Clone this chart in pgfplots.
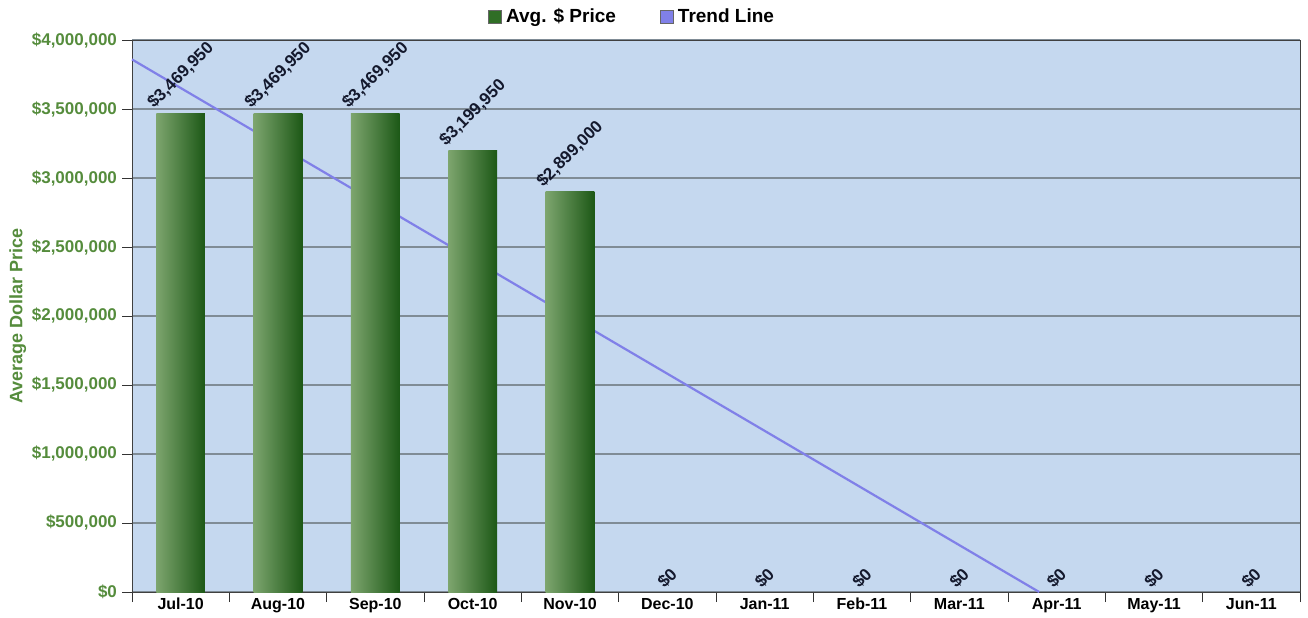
\documentclass[border=0pt]{standalone}
\usepackage{pgfplots}
\pgfplotsset{compat=1.18}
\usepackage{fontspec}
\setmainfont{Liberation Sans}
\definecolor{plotbg}{RGB}{197,216,239}
\definecolor{gridc}{RGB}{128,140,150}
\definecolor{barlight}{RGB}{125,165,110}
\definecolor{barmid}{RGB}{58,132,46}
\definecolor{bardark}{RGB}{28,88,22}
\definecolor{trendc}{RGB}{128,128,232}
\definecolor{tickgreen}{RGB}{85,140,60}
\definecolor{lblnavy}{RGB}{20,25,45}
\definecolor{legendgreen}{RGB}{48,110,38}
\begin{document}
\begin{tikzpicture}
\useasboundingbox (-66pt,-12.5pt) rectangle (588pt,296pt);
\begin{axis}[
    scale only axis,
    width=584pt, height=276pt,
    xmin=-0.5, xmax=11.5,
    ymin=0, ymax=4000000,
    scaled y ticks=false,
    axis background/.style={fill=plotbg},
    axis line style={draw=black!75},
    xtick pos=bottom, ytick pos=left,
    xtick={0,...,11},
    xticklabels={Jul-10,Aug-10,Sep-10,Oct-10,Nov-10,Dec-10,Jan-11,Feb-11,Mar-11,Apr-11,May-11,Jun-11},
    minor xtick={-0.5,0.5,...,11.5},
    major x tick style={draw=none},
    minor x tick style={draw=black!80},
    tick align=outside,
    minor tick length=5pt,
    major tick length=5pt,
    ytick={0,500000,...,4000000},
    yticklabels={\$0,\$500{,}000,\$1{,}000{,}000,\$1{,}500{,}000,\$2{,}000{,}000,\$2{,}500{,}000,\$3{,}000{,}000,\$3{,}500{,}000,\$4{,}000{,}000},
    ytick style={draw=black!80},
    ymajorgrids,
    grid style={draw=gridc, line width=0.6pt},
    xticklabel style={font=\fontsize{8}{9}\selectfont\bfseries, text=black, yshift=5.5pt},
    yticklabel style={font=\fontsize{8.5}{10}\selectfont\bfseries, text=tickgreen, xshift=1pt},
    ylabel={Average Dollar Price},
    ylabel style={font=\fontsize{9}{10}\selectfont\bfseries, text=tickgreen, yshift=-4pt},
    clip=false,
    legend style={at={(0.429,1.011)}, anchor=south, draw=none, fill=none,
        legend columns=2, font=\fontsize{9.5}{11}\selectfont\bfseries,
        /tikz/every even column/.append style={column sep=20pt}},
    nodes near coords={\rotatebox{45}{\pgfplotspointmeta}},
    every node near coord/.append style={font=\fontsize{8.5}{9}\selectfont\bfseries, text=lblnavy, anchor=south, inner sep=1pt},
    pricebar/.style={ybar, bar width=0.5, draw=none,
        left color=barlight, middle color=barmid, right color=bardark,
        point meta=explicit symbolic},
]
% trend line first, so that the bars cover it
\addplot[trendc, line width=1.1pt, nodes near coords=, no markers, forget plot]
coordinates {(-0.5,3859337) (8.82,0)};
\addplot[pricebar,
    legend image code/.code={\node[draw=black!60, fill=legendgreen, minimum size=6.6pt, inner sep=0pt, anchor=west] at (0pt,0pt) {};}]
coordinates {(0,3469950) [\$3,469,950]};
\addlegendentry{Avg. \$ Price}
\addlegendimage{legend image code/.code={\node[draw=black!60, fill=trendc, minimum size=6.6pt, inner sep=0pt, anchor=west] at (0pt,0pt) {};}}
\addlegendentry{Trend Line}
\addplot[pricebar, forget plot] coordinates {(1,3469950) [\$3,469,950]};
\addplot[pricebar, forget plot] coordinates {(2,3469950) [\$3,469,950]};
\addplot[pricebar, forget plot] coordinates {(3,3199950) [\$3,199,950]};
\addplot[pricebar, forget plot] coordinates {(4,2899000) [\$2,899,000]};
\addplot[draw=none, no markers, point meta=explicit symbolic, forget plot]
coordinates {
    (5,0) [\$0] (6,0) [\$0] (7,0) [\$0] (8,0) [\$0]
    (9,0) [\$0] (10,0) [\$0] (11,0) [\$0]
};
\end{axis}
\end{tikzpicture}
\end{document}
